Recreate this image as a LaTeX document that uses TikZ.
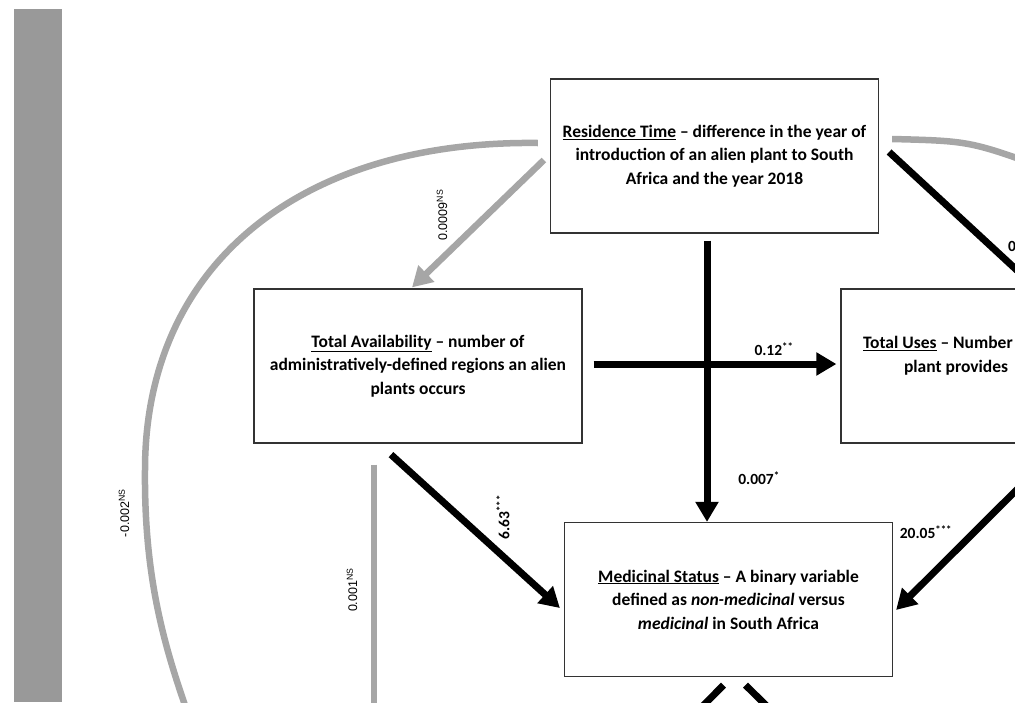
\documentclass[tikz,border=0pt]{standalone}
\usepackage{fontspec}
\setmainfont{Carlito}
\newfontfamily\nsfont{Liberation Sans}
\usetikzlibrary{arrows.meta,calc}

\definecolor{pathgray}{HTML}{A6A6A6}
\definecolor{bargray}{HTML}{999999}

\begin{document}
\begin{tikzpicture}[x=1pt,y=-1pt,
    box/.style={draw=black!80, line width=1.2pt, minimum width=328pt, minimum height=154pt,
        align=center, font=\fontsize{17.5}{23.5}\selectfont\bfseries, inner sep=0pt},
    blackarrow/.style={line width=7pt, black, -{Triangle[length=20pt,width=22pt]}},
    grayarrow/.style={line width=6.5pt, pathgray, -{Triangle[length=20pt,width=22pt]}},
    blackline/.style={line width=7pt, black},
    grayline/.style={line width=6.5pt, pathgray},
    coef/.style={font=\fontsize{15.5}{18}\selectfont\bfseries, inner sep=1pt},
    nslabel/.style={font=\nsfont\fontsize{12.5}{15}\selectfont, inner sep=1pt, rotate=90}]
    \useasboundingbox (0,0) rectangle (1015,702);

    % side bar
    \fill[bargray] (14,9) rectangle (62,702);

    % boxes
    \node[box] (rt) at (714.5,156) {\underline{Residence Time} -- difference in the year of\\
        introduction of an alien plant to South\\ Africa and the year 2018};
    \node[box] (ta) at (418,366) {\underline{Total Availability} -- number of\\
        administratively-defined regions an alien\\ plants occurs};
    \node[box, align=flush left, text width=286pt, inner xsep=22pt] (tu) at (1006,366)
        {\underline{Total Uses} -- Number\\ \hspace*{41pt}plant provides\\ \mbox{}};
    \node[box] (ms) at (728.5,599.5) {\underline{Medicinal Status} -- A binary variable\\
        defined as \textit{non-medicinal} versus\\ \textit{medicinal} in South Africa};

    % free ends beyond the page
    \coordinate (outL) at (192,725);
    \coordinate (outR) at (1050,170);
    \coordinate (outB) at (374,725);
    \coordinate (outC) at (684,725);
    \coordinate (outD) at (786,725);

    % gray paths
    \draw[grayline] ($(rt.west)+(-12,-13)$) .. controls (300,140) and (145,265) .. (145,470)
        .. controls (144,580) and (165,650) .. (outL);
    \draw[grayline] ($(rt.east)+(13,-17)$) .. controls (970,141) .. (outR);
    \draw[grayarrow] ($(rt.west)+(-6,4)$) -- ($(ta.north)+(-6,-1)$);
    \draw[grayline] ($(ta.south)+(-44,21)$) -- (outB);

    % black paths
    \draw[blackarrow] ($(rt.south)+(-7.5,7)$) -- ($(ms.north)+(-21.5,0)$);
    \draw[blackarrow] ($(ta.east)+(11,-2)$) -- ($(tu.west)+(-4,-2)$);
    \draw[blackarrow] ($(ta.south)+(-27,11)$) -- ($(ms.west)+(-4,8.5)$);
    \draw[blackarrow] ($(tu.south)+(52,5)$) -- ($(ms.east)+(3,10.5)$);
    \draw[blackline] ($(rt.east)+(10,-4)$) -- ($(tu.north)+(23,-7)$);
    \draw[blackline] ($(ms.south)+(-5,8)$) -- (outC);
    \draw[blackline] ($(ms.south)+(17,8)$) -- (outD);

    % coefficients
    \node[coef] (c1) at (774,349) {0.12\textsuperscript{**}};
    \node[coef] (c2) at (759,478) {0.007\textsuperscript{*}};
    \node[coef, rotate=90] (c3) at (503,517) {6.63\textsuperscript{***}};
    \node[coef] (c4) at (926,532) {20.05\textsuperscript{***}};
    \node[coef, anchor=west] (c5) at (1007,246) {0};
    \node[nslabel] (n1) at (442,215) {0.0009\textsuperscript{NS}};
    \node[nslabel] (n2) at (124,513) {-0.002\textsuperscript{NS}};
    \node[nslabel] (n3) at (352,590) {0.001\textsuperscript{NS}};
\end{tikzpicture}
\end{document}
